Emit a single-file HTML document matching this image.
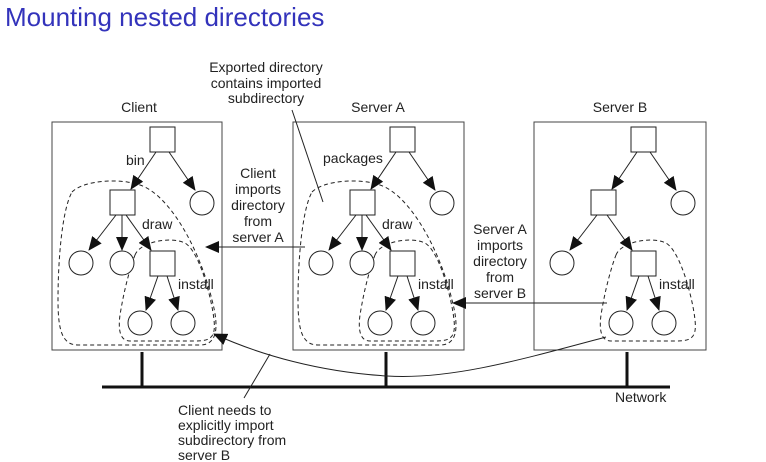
<!DOCTYPE html>
<html><head><meta charset="utf-8"><style>
html,body{margin:0;padding:0;background:#fff;}
svg{display:block;font-family:"Liberation Sans",sans-serif;}
</style></head><body>
<svg width="766" height="462" viewBox="0 0 766 462" xmlns="http://www.w3.org/2000/svg">
<defs>
<marker id="ah2" markerWidth="14" markerHeight="12" refX="13" refY="6" orient="auto" markerUnits="userSpaceOnUse">
<path d="M0,0 L14,6 L0,12 Z" fill="#111"/>
</marker>
<g id="top">
<line x1="156" y1="152" x2="131" y2="189" stroke="#222" marker-end="url(#ah2)"/>
<line x1="169" y1="152" x2="195" y2="190" stroke="#222" marker-end="url(#ah2)"/>
<line x1="126" y1="215" x2="151" y2="250" stroke="#222" marker-end="url(#ah2)"/>
<line x1="116" y1="215" x2="89" y2="250" stroke="#222" marker-end="url(#ah2)"/>
<line x1="158" y1="276" x2="146" y2="310" stroke="#222" marker-end="url(#ah2)"/>
<line x1="167" y1="276" x2="178" y2="310" stroke="#222" marker-end="url(#ah2)"/>
<rect x="150" y="127" width="25" height="25" fill="#fff" stroke="#222"/>
<rect x="110" y="190" width="25" height="25" fill="#fff" stroke="#222"/>
<circle cx="202" cy="203" r="12" fill="#fff" stroke="#222"/>
<circle cx="81" cy="263" r="12" fill="#fff" stroke="#222"/>
<rect x="150" y="251" width="25" height="25" fill="#fff" stroke="#222"/>
<circle cx="140" cy="323" r="12" fill="#fff" stroke="#222"/>
<circle cx="183" cy="323" r="12" fill="#fff" stroke="#222"/>
</g>
<path id="inner" d="M135,255 C140,242 170,236 185,243 C200,252 212,300 214,320 C216,338 210,341 195,341 L130,341 C120,341 118,330 120,315 C124,290 130,268 135,255 Z" fill="none" stroke="#222" stroke-dasharray="4,3"/>
<path id="outer" d="M72,192 C84,180 120,178 140,185 C170,195 200,250 212,300 C220,330 216,345 200,345 L78,345 C62,345 58,330 58,300 C58,260 62,210 72,192 Z" fill="none" stroke="#222" stroke-dasharray="4,3"/>
</defs>

<text x="5" y="26" font-size="26" fill="#3333bb">Mounting nested directories</text>

<line x1="102" y1="387" x2="670" y2="387" stroke="#111" stroke-width="3"/>
<line x1="142" y1="352" x2="142" y2="387" stroke="#111" stroke-width="3"/>
<line x1="386" y1="352" x2="386" y2="387" stroke="#111" stroke-width="3"/>
<line x1="627" y1="352" x2="627" y2="387" stroke="#111" stroke-width="3"/>
<text x="615" y="402" font-size="14" fill="#222">Network</text>

<rect x="52" y="122" width="170" height="228" fill="#fff" stroke="#444"/>
<rect x="293" y="122" width="171" height="228" fill="#fff" stroke="#444"/>
<rect x="534" y="122" width="172" height="228" fill="#fff" stroke="#444"/>
<text x="139" y="112" font-size="14" text-anchor="middle" fill="#222">Client</text>
<text x="378" y="112" font-size="14" text-anchor="middle" fill="#222">Server A</text>
<text x="620" y="112" font-size="14" text-anchor="middle" fill="#222">Server B</text>

<use href="#outer"/>
<use href="#inner"/>
<line x1="122" y1="215" x2="122" y2="250" stroke="#222" marker-end="url(#ah2)"/>
<use href="#top"/>
<circle cx="122" cy="263" r="12" fill="#fff" stroke="#222"/>
<text x="126" y="165" font-size="14" fill="#222">bin</text>
<text x="142" y="229" font-size="14" fill="#222">draw</text>
<text x="178" y="289" font-size="14" fill="#222">install</text>

<g transform="translate(240,0)">
<use href="#outer"/>
<use href="#inner"/>
<line x1="122" y1="215" x2="122" y2="250" stroke="#222" marker-end="url(#ah2)"/>
<use href="#top"/>
<circle cx="122" cy="263" r="12" fill="#fff" stroke="#222"/>
<text x="142" y="229" font-size="14" fill="#222">draw</text>
<text x="178" y="289" font-size="14" fill="#222">install</text>
</g>
<text x="323" y="163" font-size="14" fill="#222">packages</text>

<g transform="translate(481,0)">
<use href="#inner"/>
<use href="#top"/>
<text x="178" y="289" font-size="14" fill="#222">install</text>
</g>

<line x1="305" y1="247" x2="206" y2="247" stroke="#222" marker-end="url(#ah2)"/>
<line x1="607" y1="303" x2="453" y2="303" stroke="#222" marker-end="url(#ah2)"/>
<path d="M606,337 C520,360 450,380 387,376 C320,372 260,355 214,334" fill="none" stroke="#222" marker-end="url(#ah2)"/>

<g font-size="14" fill="#222" text-anchor="middle">
<text x="266" y="72">Exported directory</text>
<text x="266" y="88">contains imported</text>
<text x="266" y="103">subdirectory</text>
<text x="258" y="178">Client</text>
<text x="258" y="194">imports</text>
<text x="258" y="210">directory</text>
<text x="258" y="226">from</text>
<text x="258" y="242">server A</text>
<text x="500" y="234">Server A</text>
<text x="500" y="250">imports</text>
<text x="500" y="266">directory</text>
<text x="500" y="282">from</text>
<text x="500" y="298">server B</text>
</g>
<line x1="292" y1="110" x2="323" y2="202" stroke="#222"/>
<line x1="244" y1="398" x2="270" y2="354" stroke="#222"/>
<g font-size="14" fill="#222">
<text x="178" y="415">Client needs to</text>
<text x="178" y="430">explicitly import</text>
<text x="178" y="445">subdirectory from</text>
<text x="178" y="460">server B</text>
</g>
</svg>
</body></html>
